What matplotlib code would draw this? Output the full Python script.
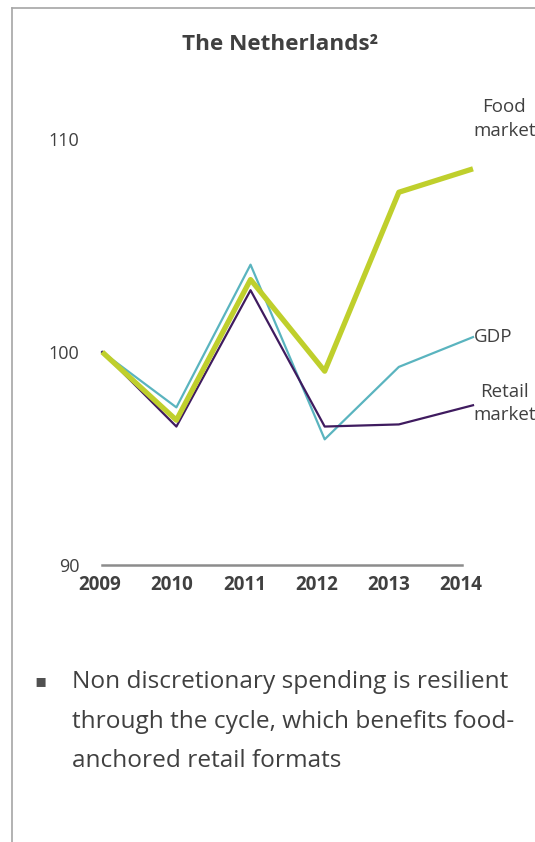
import numpy as np
import matplotlib
matplotlib.use("Agg")
from matplotlib import pyplot as plt
from matplotlib.lines import Line2D

plt.rcParams['font.family'] = ['Open Sans', 'DejaVu Sans']

years = ['2009', '2010', '2011', '2012', '2013', '2014']
food_market = [100.0, 96.8, 103.4, 99.1, 107.5, 108.6]
gdp = [100.0, 97.4, 104.1, 95.9, 99.3, 100.7]
retail_market = [100.0, 96.5, 102.9, 96.5, 96.6, 97.5]
y_ticks = [90, 100, 110]

bullet_lines = ['Non discretionary spending is resilient',
                'through the cycle, which benefits food-',
                'anchored retail formats']

TEXT = '#404040'
W, H = 535, 842

fig = plt.figure(figsize=(W / 100, H / 100), dpi=100)

def fx(px):
    return px / W

def fy(py):
    return 1 - py / H

# panel frame (left and top edges only)
fig.add_artist(Line2D([fx(12), fx(12)], [fy(8), 0], color='#a6a6a6', lw=1.2))
fig.add_artist(Line2D([fx(12), 1], [fy(8), fy(8)], color='#a6a6a6', lw=1.2))

ax = fig.add_axes([fx(100), fy(565), fx(473) - fx(100), fy(139) - fy(565)])
x = np.arange(len(years))
ax.plot(x, retail_market, color='#3f1b5f', lw=1.6, clip_on=False, zorder=3)
ax.plot(x, gdp, color='#5ab4bf', lw=1.6, clip_on=False, zorder=2)
ax.plot(x, food_market, color='#bfcf2c', lw=3.8, clip_on=False, zorder=4,
        solid_capstyle='butt')
ax.set_xlim(0, 5)
ax.set_ylim(90, 110)

for s in ax.spines.values():
    s.set_visible(False)
ax.plot([0, 4.85], [90, 90], color='#8c8c8c', lw=1.8, clip_on=False, zorder=1)

ax.set_yticks(y_ticks)
ax.set_yticklabels([str(v) for v in y_ticks], fontsize=13, color=TEXT)
ax.set_xticks(x * 0.973 - 0.03)
ax.set_xticklabels(years, fontsize=13.5, fontweight='bold', color=TEXT)
ax.tick_params(axis='y', length=0, pad=15)
ax.tick_params(axis='x', length=0, pad=7)

# series labels at the line ends
ax.text(5.0, 110.95, 'Food\nmarket', ha='left', va='center', fontsize=13.5,
        color=TEXT, linespacing=1.45, multialignment='center', clip_on=False)
ax.text(5.01, gdp[-1], 'GDP', ha='left', va='center', fontsize=13.5,
        color=TEXT, clip_on=False)
ax.text(5.0, retail_market[-1] + 0.1, 'Retail\nmarket', ha='left', va='center',
        fontsize=13.5, color=TEXT, linespacing=1.35, multialignment='center',
        clip_on=False)

fig.text(0.523, fy(45), 'The Netherlands\u00b2', ha='center', va='center',
         fontsize=16.2, fontweight='bold', color=TEXT)

# bullet note
fig.text(fx(40), fy(681), '\u25aa', ha='center', va='center', fontsize=13,
         color='#505050', family=['DejaVu Sans'])
for i, line in enumerate(bullet_lines):
    fig.text(fx(72), fy(682 + 39.5 * i), line, ha='left', va='center',
             fontsize=17.6, color=TEXT)

fig.savefig('out.png', dpi=100)
